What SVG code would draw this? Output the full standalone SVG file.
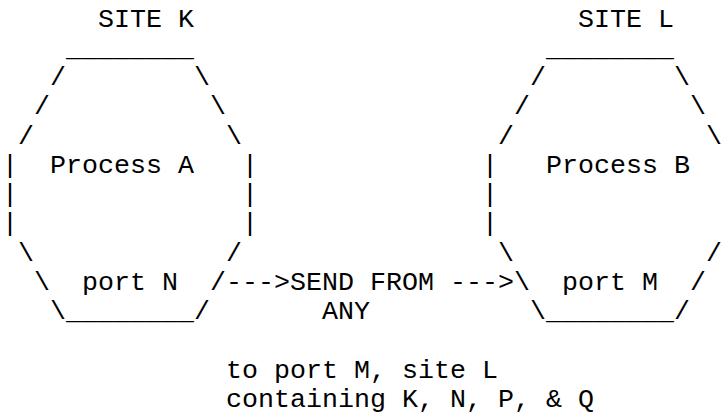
<svg xmlns="http://www.w3.org/2000/svg" width="725" height="416" viewBox="0 0 725 416">
<style>
text{font-family:"Courier New","Nimbus Mono PS","Nimbus Mono L",FreeMono,Courier,"Liberation Mono",monospace;font-size:26.667px;fill:#000}
</style>
<rect width="725" height="416" fill="#fff"/>
<g id="site-k">
<text x="98" y="26.7">SITE K</text>
<text x="66" y="55.95">________</text>
<text x="50" y="85.2">/</text><text x="194" y="85.2">\</text>
<text x="34" y="114.45">/</text><text x="210" y="114.45">\</text>
<text x="18" y="143.7">/</text><text x="226" y="143.7">\</text>
<text x="2" y="172.95">|</text><text x="50" y="172.95">Process A</text><text x="242" y="172.95">|</text>
<text x="2" y="202.2">|</text><text x="242" y="202.2">|</text>
<text x="2" y="231.45">|</text><text x="242" y="231.45">|</text>
<text x="18" y="260.7">\</text><text x="226" y="260.7">/</text>
<text x="34" y="289.95">\</text><text x="82" y="289.95">port N</text><text x="210" y="289.95">/</text>
<text x="50" y="319.2">\________/</text>
</g>
<g id="site-l">
<text x="578" y="26.7">SITE L</text>
<text x="546" y="55.95">________</text>
<text x="530" y="85.2">/</text><text x="674" y="85.2">\</text>
<text x="514" y="114.45">/</text><text x="690" y="114.45">\</text>
<text x="498" y="143.7">/</text><text x="706" y="143.7">\</text>
<text x="482" y="172.95">|</text><text x="546" y="172.95">Process B</text>
<text x="482" y="202.2">|</text>
<text x="482" y="231.45">|</text>
<text x="498" y="260.7">\</text><text x="706" y="260.7">/</text>
<text x="514" y="289.95">\</text><text x="562" y="289.95">port M</text><text x="690" y="289.95">/</text>
<text x="530" y="319.2">\________/</text>
</g>
<g id="connectors">
<text x="226" y="289.95">---&gt;</text>
<text x="450" y="289.95">---&gt;</text>
</g>
<g id="labels">
<text x="290" y="289.95">SEND FROM</text>
<text x="322" y="319.2">ANY</text>
<text x="226" y="377.7">to port M, site L</text>
<text x="226" y="406.95">containing K, N, P, &amp; Q</text>
</g>
</svg>
